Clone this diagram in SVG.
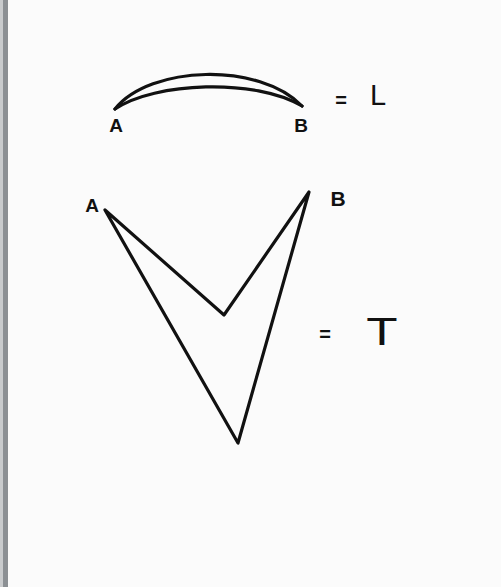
<svg xmlns="http://www.w3.org/2000/svg" width="501" height="587" viewBox="0 0 501 587">
<style>
.ink{fill:none;stroke:#111;stroke-width:3.2;stroke-linecap:round;stroke-linejoin:round}
.lbl{font-family:"Liberation Sans",Arial,sans-serif;fill:#111;font-weight:bold}
.big{font-family:"Liberation Sans",Arial,sans-serif;fill:#111}
</style>
<rect x="0" y="0" width="501" height="587" fill="#fbfbfb"/>
<rect x="0" y="0" width="3" height="587" fill="#c9cbcd"/>
<rect x="3" y="0" width="5" height="587" fill="#8c9094"/>
<g id="arc-figure">
<path class="ink" d="M115,109 C150,65 260,62 302,106"/>
<path class="ink" d="M115,109 C155,82 255,78 302,106"/>
<text class="lbl" x="116" y="132" font-size="19" text-anchor="middle">A</text>
<text class="lbl" x="301" y="132" font-size="19" text-anchor="middle">B</text>
<text class="lbl" x="341" y="107" font-size="20" text-anchor="middle">=</text>
<text class="big" x="378" y="105" font-size="29" text-anchor="middle">L</text>
</g>
<g id="v-figure">
<path class="ink" d="M105,210 L224,315 L309,192 L238,443 Z"/>
<text class="lbl" x="92" y="212" font-size="19" text-anchor="middle">A</text>
<text class="lbl" x="338" y="206" font-size="21" text-anchor="middle">B</text>
<text class="lbl" x="325" y="341" font-size="20" text-anchor="middle">=</text>
<text class="big" x="382" y="345" font-size="38" text-anchor="middle" transform="translate(382,0) scale(1.35,1) translate(-382,0)">T</text>
</g>
</svg>
